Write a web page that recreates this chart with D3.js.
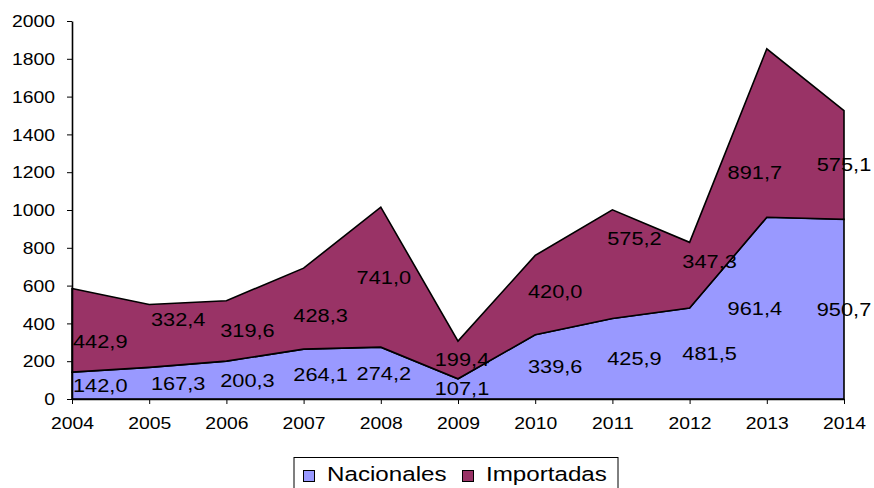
<!DOCTYPE html>
<html>
<head>
<meta charset="utf-8">
<script src="https://d3js.org/d3.v7.min.js"></script>
<style>
body { margin: 0; background: #fff; }
text { font-family: "Liberation Sans", Arial, sans-serif; fill: #000; }
</style>
</head>
<body>
<script type="text/javascript">

/* chart data */
var years = [2004, 2005, 2006, 2007, 2008, 2009, 2010, 2011, 2012, 2013, 2014];
var nacionales = [142.0, 167.3, 200.3, 264.1, 274.2, 107.1, 339.6, 425.9, 481.5, 961.4, 950.7];
var importadas = [442.9, 332.4, 319.6, 428.3, 741.0, 199.4, 420.0, 575.2, 347.3, 891.7, 575.1];
var seriesNames = ["Nacionales", "Importadas"];
var yTicks = [0, 200, 400, 600, 800, 1000, 1200, 1400, 1600, 1800, 2000];

/* layout: nudges of the value labels, per year (px) */
var labelDx = [0, 29, 21, 17, 3, 4, 20, 22, 20, -12, 0];
var importDy = [11, -16, 0, 7, 0, 0, -4, -26, -14, 39, 0];

var colors = ["#9999ff", "#993366"];
var stretch = 1.21;   // text in the original is drawn a bit wide

var width = 874, height = 488;
var svg = d3.select("body").append("svg")
  .attr("width", width)
  .attr("height", height);

var x = d3.scalePoint().domain(years).range([72, 844]);
var y = d3.scaleLinear().domain([0, 2000]).range([399, 21]);

var table = years.map(function(yr, i) {
  return { year: yr, Nacionales: nacionales[i], Importadas: importadas[i] };
});
var stacked = d3.stack().keys(seriesNames)(table);

var area = d3.area()
  .x(function(d) { return x(d.data.year); })
  .y0(function(d) { return y(d[0]); })
  .y1(function(d) { return y(d[1]); });

svg.selectAll("path.band")
  .data(stacked)
  .enter().append("path")
  .attr("class", "band")
  .attr("d", function(d) { return area(d) + "Z"; })
  .attr("fill", function(d, i) { return colors[i]; })
  .attr("stroke", "#000")
  .attr("stroke-width", 1.6)
  .attr("stroke-linejoin", "miter");

/* axes */
var yAxis = svg.append("g")
  .attr("transform", "translate(72,0)")
  .call(d3.axisLeft(y).tickValues(yTicks).tickSize(5).tickSizeOuter(0).tickFormat(d3.format("d")));
var xAxis = svg.append("g")
  .attr("transform", "translate(0,399)")
  .call(d3.axisBottom(x).tickSize(5).tickSizeOuter(0).tickFormat(d3.format("d")));

[yAxis, xAxis].forEach(function(g) {
  g.select(".domain").attr("stroke", "#000").attr("stroke-width", 1.6);
  g.selectAll(".tick line").attr("stroke", "#000").attr("stroke-width", 1);
  g.selectAll("text").style("font-size", "16px").attr("fill", "#000");
});
yAxis.selectAll("text")
  .attr("x", -17 / stretch)
  .attr("dy", "0.36em")
  .attr("transform", "scale(" + stretch + ",1)");
xAxis.selectAll("text")
  .attr("y", 30)
  .attr("dy", 0)
  .attr("transform", "scale(" + stretch + ",1)");

/* data labels, middle of each band */
var fmt = function(v) { return v.toFixed(1).replace(".", ","); };
stacked.forEach(function(s, k) {
  s.forEach(function(d, i) {
    var cx = x(d.data.year) + labelDx[i];
    var cy = y((d[0] + d[1]) / 2) + (k === 1 ? importDy[i] : 0);
    var t = svg.append("text")
      .attr("text-anchor", "middle")
      .attr("dy", "0.36em")
      .style("font-size", "18px")
      .text(fmt(d[1] - d[0]));
    var w = t.node().getComputedTextLength() * stretch;
    if (cx - w / 2 < 73) cx = 73 + w / 2;
    t.attr("transform", "translate(" + cx + "," + cy + ") scale(" + stretch + ",1)");
  });
});

/* legend */
var legend = svg.append("g");
legend.append("rect")
  .attr("x", 294).attr("y", 457.5)
  .attr("width", 324).attr("height", 40)
  .attr("fill", "#fff").attr("stroke", "#000").attr("stroke-width", 1);

var items = legend.selectAll("g.item")
  .data(seriesNames)
  .enter().append("g")
  .attr("class", "item")
  .attr("transform", function(d, i) { return "translate(" + (i === 0 ? 303.5 : 462.5) + ",470.5)"; });
items.append("rect")
  .attr("width", 11).attr("height", 11)
  .attr("fill", function(d, i) { return colors[i]; })
  .attr("stroke", "#000").attr("stroke-width", 1);
items.append("text")
  .attr("transform", "translate(23.5,10.5) scale(1.24,1)")
  .style("font-size", "19.5px")
  .text(function(d) { return d; });

</script>
</body>
</html>
